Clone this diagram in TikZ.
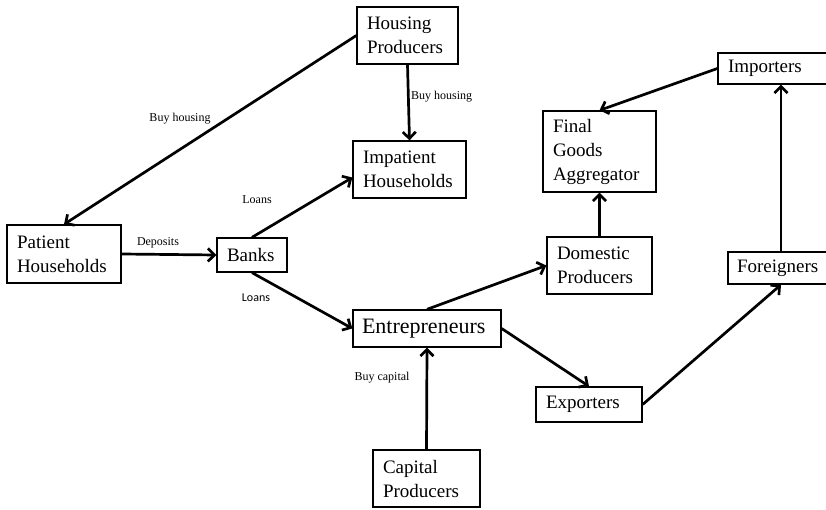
\documentclass[tikz,border=0pt]{standalone}
\usepackage{fontspec}
\setmainfont{Liberation Serif}
\newfontfamily\lblsans{Carlito}
\usetikzlibrary{arrows.meta}
\begin{document}
\begin{tikzpicture}[
        x=1pt,
        y=-1pt,
        font=\fontsize{19}{24}\selectfont
    ]
    \tikzset{
        agent/.style = {rectangle, draw=black, line width=1.3pt, align=left, inner xsep=10pt, inner ysep=0pt},
        lbl/.style = {inner sep=0pt, font=\fontsize{12}{14}\selectfont},
        flow/.style = {line width=2.7pt, -{Straight Barb[length=6.5pt,width=13pt]}},
    }
    \useasboundingbox (0,0) rectangle (826,510);
    \clip (0,0) rectangle (826,510);
    \node[agent, text width=81pt, minimum height=57pt] at (407.5,35.5) (hp) {Housing\\Producers};
    \node[agent, text width=93pt, minimum height=57pt] at (409.5,169.5) (ih) {Impatient\\Households};
    \node[agent, text width=94pt, minimum height=58pt] at (64,254) (ph) {Patient\\Households};
    \node[agent, text width=50pt, minimum height=34pt] at (252,255) (bk) {Banks};
    \node[agent, text width=130pt, minimum height=37pt, inner xsep=9pt, font=\fontsize{22}{26}\selectfont] at (427,328.5) (en) {Entrepreneurs};
    \node[agent, text width=87pt, minimum height=57pt] at (426.5,478.5) (cp) {Capital\\Producers};
    \node[agent, text width=93pt, minimum height=81pt] at (599.5,151.5) (fga) {Final\\Goods\\Aggregator};
    \node[agent, text width=85pt, minimum height=57pt] at (599.5,265.5) (dp) {Domestic\\Producers};
    \node[agent, text width=106pt, minimum height=31pt] at (781,68.5) (imp) {Importers};
    \node[agent, text width=88pt, minimum height=32pt, inner xsep=9pt] at (781,268) (fo) {Foreigners};
    \node[agent, text width=86pt, minimum height=35pt] at (589,404.5) (ex) {Exporters};
    %
    \node[lbl] at (180,119) (l1) {Buy housing};
    \node[lbl, anchor=west] at (411,97) (l2) {Buy housing};
    \node[lbl] at (158,243) (l3) {Deposits};
    \node[lbl] at (257,200) (l4) {Loans};
    \node[lbl, font=\lblsans\fontsize{12}{14}\selectfont] at (256,298) (l5) {Loans};
    \node[lbl] at (382,378) (l6) {Buy capital};
    %
    \draw[flow] (hp.west) -- (ph.north);
    \draw[flow] (hp.south) -- (ih.north);
    \draw[flow] (ph.east) -- (bk.west);
    \draw[flow] (bk.north) -- ([yshift=-8pt]ih.west);
    \draw[flow] (bk.south) -- (en.west);
    %
    \draw[flow] (en.north) -- (dp.west);
    \draw[flow] (dp.north) -- (fga.south);
    \draw[flow] (imp.west) -- (fga.north);
    \draw[flow] (fo.north) -- (imp.south);
    \draw[flow] (ex.east) -- (fo.south);
    \draw[flow] (en.east) -- (ex.north);
    \draw[flow] (cp.north) -- (en.south);
\end{tikzpicture}
\end{document}
